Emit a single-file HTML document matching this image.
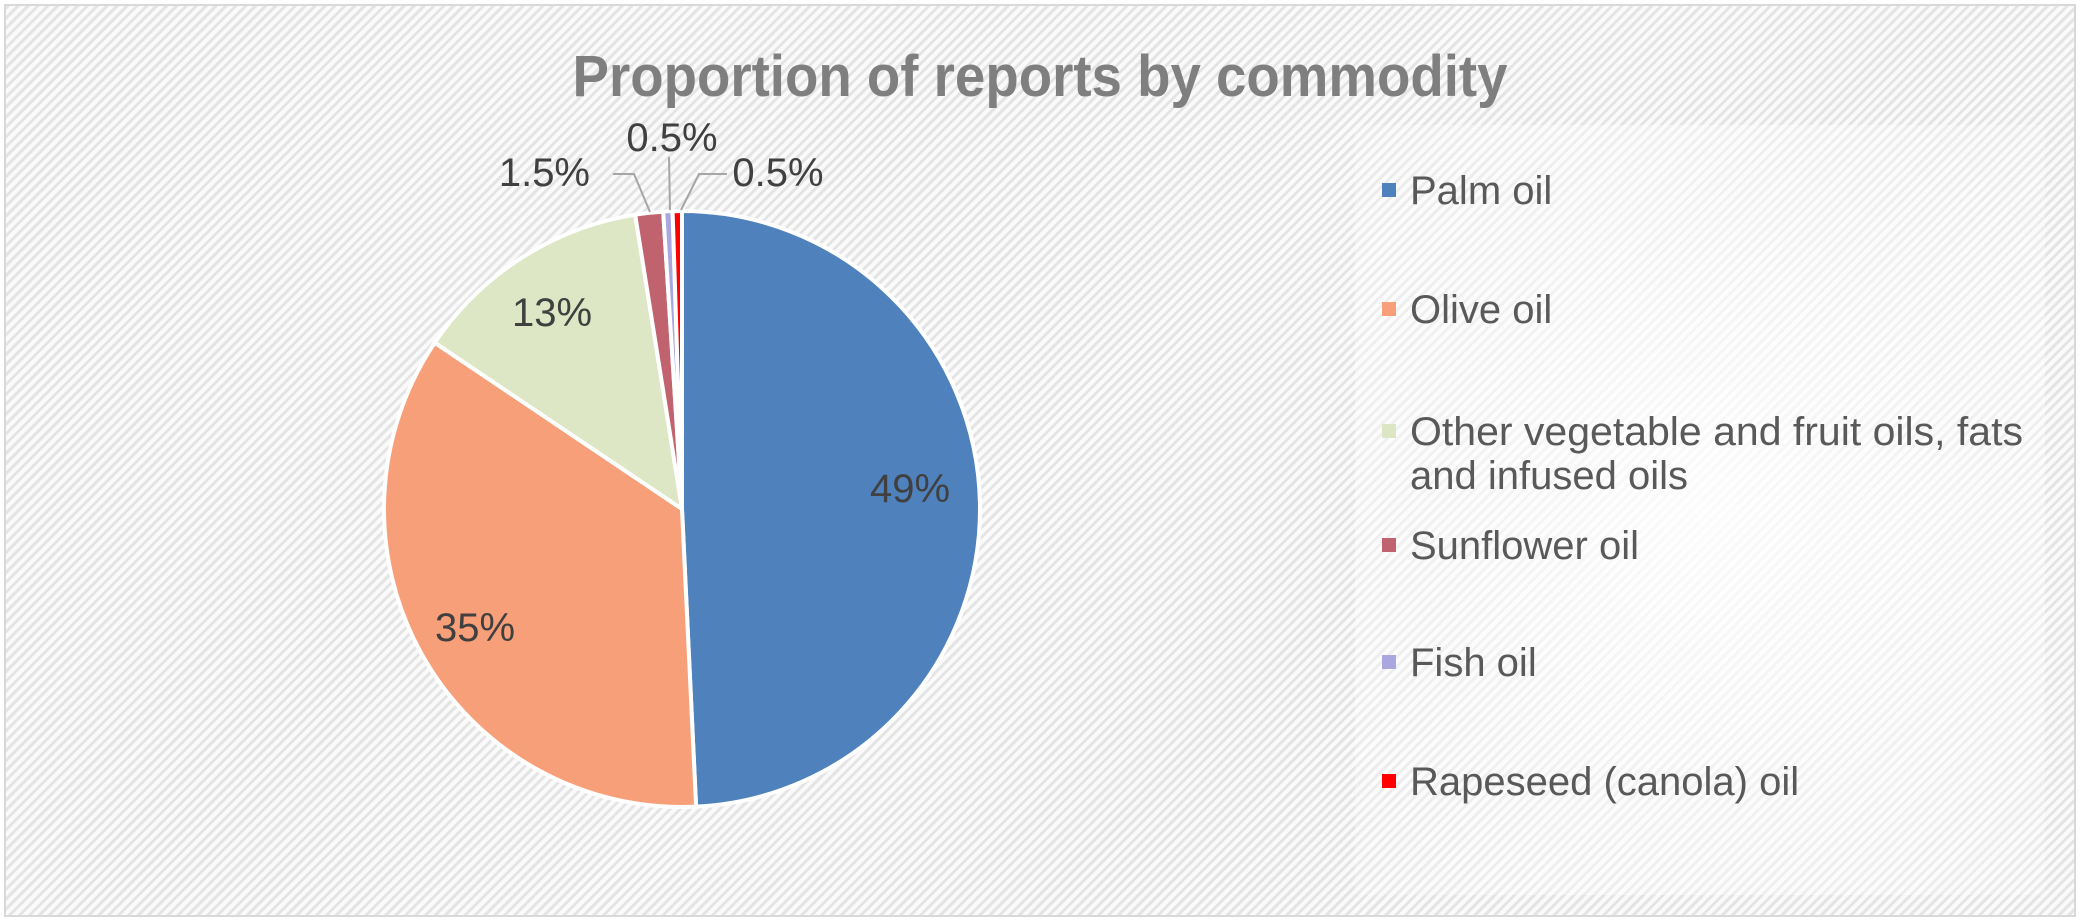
<!DOCTYPE html>
<html><head><meta charset="utf-8"><style>
html,body{margin:0;padding:0}
body{width:2080px;height:921px;overflow:hidden;background:#fff;font-family:"Liberation Sans",sans-serif}
#c{position:absolute;left:4px;top:4px;width:2068px;height:909px;border:2px solid #d9d9d9;
background:repeating-linear-gradient(135deg,#e4e4e4 0px,#e4e4e4 3px,#fafafa 3px,#fafafa 7px)}
</style></head><body>
<div id="c"></div>
<svg width="2080" height="921" style="position:absolute;left:0;top:0">
<defs><radialGradient id="lg" cx="0.5" cy="0.5" r="0.7"><stop offset="0" stop-color="#fff" stop-opacity="0.85"/><stop offset="1" stop-color="#fff" stop-opacity="0.2"/></radialGradient></defs>
<rect x="1355" y="125" width="690" height="770" fill="url(#lg)"/>
<text x="1040" y="96" text-anchor="middle" font-size="58" font-weight="bold" fill="#7f7f7f" textLength="935" lengthAdjust="spacingAndGlyphs">Proportion of reports by commodity</text>
<g stroke="#fff" stroke-width="4" stroke-linejoin="round" id="pie"></g>
<g stroke="#a6a6a6" stroke-width="2" fill="none">
<polyline points="613,174 634,174 650,212"/>
<polyline points="669,157 670,210"/>
<polyline points="727,174 699,174 681,210"/>
</g>
<g font-size="40" fill="#404040" text-anchor="middle">
<text x="910" y="502">49%</text>
<text x="475" y="641">35%</text>
<text x="552" y="326">13%</text>
<text x="570" y="186" text-anchor="end" dx="20">1.5%</text>
<text x="672" y="151">0.5%</text>
<text x="778" y="186">0.5%</text>
</g>
<g font-size="40" fill="#595959">
<rect x="1382" y="183" width="14" height="14" fill="#4f81bd"/><text x="1410" y="204">Palm oil</text>
<rect x="1382" y="302" width="14" height="14" fill="#f79f79"/><text x="1410" y="323">Olive oil</text>
<rect x="1382" y="424" width="14" height="14" fill="#dce6c4"/><text x="1410" y="445" textLength="613" lengthAdjust="spacingAndGlyphs">Other vegetable and fruit oils, fats</text><text x="1410" y="489">and infused oils</text>
<rect x="1382" y="538" width="14" height="14" fill="#c0636e"/><text x="1410" y="559">Sunflower oil</text>
<rect x="1382" y="655" width="14" height="14" fill="#a9a6e0"/><text x="1410" y="676">Fish oil</text>
<rect x="1382" y="774" width="14" height="14" fill="#ff0000"/><text x="1410" y="795">Rapeseed (canola) oil</text>
</g>
</svg>
<script>
var d=[[49,"#4f81bd"],[35,"#f79f79"],[13,"#dde7c5"],[1.5,"#c0636e"],[0.5,"#a9a6e0"],[0.5,"#ff0000"]];
var tot=99.5,cx=682,cy=509,r=298,a=0,g=document.getElementById("pie"),s="";
d.forEach(function(p){var a2=a+p[0]/tot*2*Math.PI;
var x1=cx+r*Math.sin(a),y1=cy-r*Math.cos(a),x2=cx+r*Math.sin(a2),y2=cy-r*Math.cos(a2);
s+='<path d="M'+cx+','+cy+'L'+x1+','+y1+'A'+r+','+r+' 0 '+((a2-a)>Math.PI?1:0)+' 1 '+x2+','+y2+'Z" fill="'+p[1]+'"/>';a=a2;});
g.innerHTML=s;
</script>
</body></html>
